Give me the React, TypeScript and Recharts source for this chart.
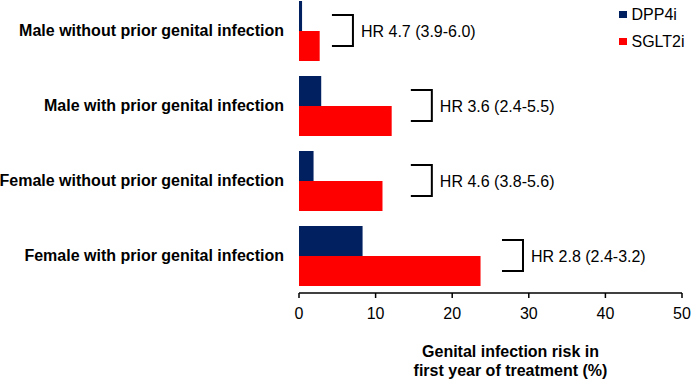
import React from 'react';
import { ComposedChart, Bar, Scatter, XAxis, YAxis, Legend } from 'recharts';

const categories = [
  'Male without prior genital infection',
  'Male with prior genital infection',
  'Female without prior genital infection',
  'Female with prior genital infection',
];
const dpp4i = [0.4, 2.9, 1.9, 8.3];
const sglt2i = [2.7, 12.1, 10.9, 23.7];
const hrLabels = ['HR 4.7 (3.9-6.0)', 'HR 3.6 (2.4-5.5)', 'HR 4.6 (3.8-5.6)', 'HR 2.8 (2.4-3.2)'];
// where each bracket starts on the x scale (%)
const hrPos = [4.3, 14.6, 14.6, 26.5];
const xTicks = [0, 10, 20, 30, 40, 50];

const data = categories.map((name, i) => ({
  name,
  DPP4i: dpp4i[i],
  SGLT2i: sglt2i[i],
  hrPos: hrPos[i],
  hr: hrLabels[i],
}));

const FONT = '"Liberation Sans", Arial, sans-serif';

const HrBracket = (props: any) => {
  const { cx, cy, payload } = props;
  if (cx == null || cy == null) return null;
  const w = 21;
  const h = 15.5;
  return (
    <g>
      <path
        d={`M${cx},${cy - h} H${cx + w} V${cy + h} H${cx}`}
        fill="none"
        stroke="#000"
        strokeWidth={2}
      />
      <text x={cx + w + 8} y={cy + 6} fontSize={16} fontFamily={FONT} fill="#000">
        {payload.hr}
      </text>
    </g>
  );
};

const LegendBox = (props: any) => {
  const items = (props.payload || []).filter((p: any) => p.type !== 'none');
  return (
    <div style={{ fontFamily: FONT, fontSize: 16, color: '#000', paddingTop: 1 }}>
      {items.map((entry: any) => (
        <div key={entry.value} style={{ display: 'flex', alignItems: 'center', height: 27 }}>
          <span style={{ width: 7.5, height: 7.5, background: entry.color, display: 'inline-block' }} />
          <span style={{ marginLeft: 5 }}>{entry.value}</span>
        </div>
      ))}
    </div>
  );
};

const AxisTitle = (props: any) => {
  const { viewBox } = props;
  const cx = viewBox.x + viewBox.width / 2 + 20;
  return (
    <text textAnchor="middle" fontFamily={FONT} fontSize={16} fontWeight="bold" fill="#000">
      <tspan x={cx} y={viewBox.y + 64}>Genital infection risk in</tspan>
      <tspan x={cx} y={viewBox.y + 83}>first year of treatment (%)</tspan>
    </text>
  );
};

export default function App() {
  return (
    <div style={{ position: 'absolute', left: 0, top: 0, background: '#fff' }}>
      <ComposedChart
        width={691}
        height={380}
        data={data}
        layout="vertical"
        barGap={0}
        margin={{ top: -7, right: 9, bottom: 47, left: 0 }}
      >
        <XAxis
          type="number"
          domain={[0, 50]}
          ticks={xTicks}
          height={40}
          tickSize={5}
          tickMargin={10}
          axisLine={{ stroke: '#000', strokeWidth: 1.5 }}
          tickLine={{ stroke: '#000', strokeWidth: 1.5 }}
          tick={{ fill: '#000', fontSize: 16, fontFamily: FONT }}
          label={{ content: AxisTitle }}
        />
        <YAxis
          type="category"
          dataKey="name"
          width={299}
          axisLine={false}
          tickLine={false}
          tickSize={0}
          tickMargin={15}
          tick={{ fill: '#000', fontSize: 16, fontWeight: 'bold', fontFamily: FONT }}
        />
        <Legend
          layout="vertical"
          align="center"
          verticalAlign="middle"
          wrapperStyle={{ left: 619, top: 0, width: 72 }}
          content={LegendBox}
        />
        <Bar dataKey="DPP4i" fill="#002060" barSize={30} isAnimationActive={false} />
        <Bar dataKey="SGLT2i" fill="#ff0000" barSize={30} isAnimationActive={false} />
        <Scatter dataKey="hrPos" legendType="none" shape={HrBracket} isAnimationActive={false} />
      </ComposedChart>
    </div>
  );
}
